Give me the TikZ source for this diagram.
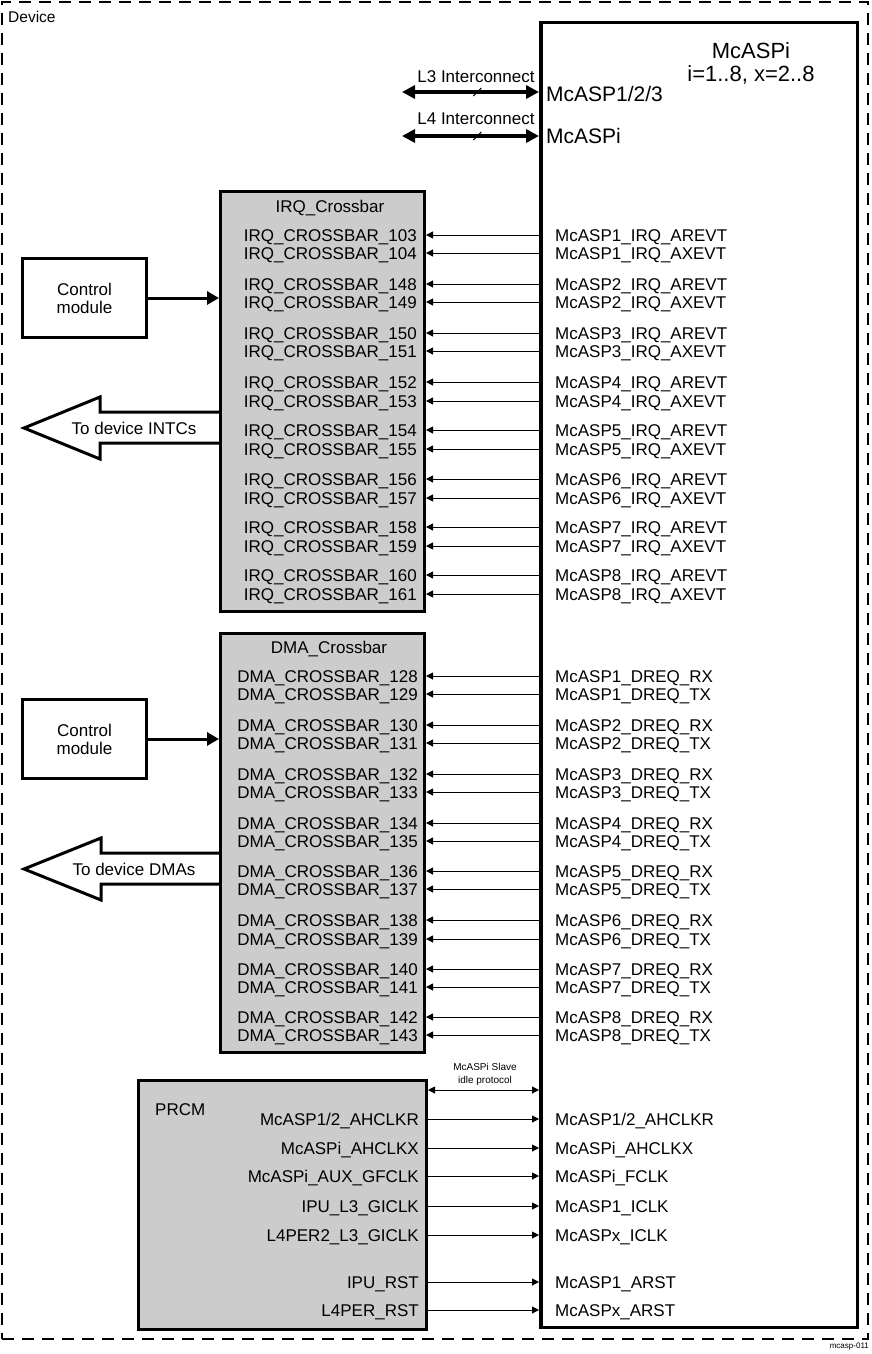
\documentclass[tikz,border=0pt]{standalone}
\usepackage{fontspec}
\setmainfont{Liberation Sans}
\usetikzlibrary{arrows.meta}
\definecolor{boxgray}{RGB}{204,204,204}
\begin{document}
\begin{tikzpicture}[x=1pt,y=-1pt,
  every node/.style={inner sep=0pt},
  sigfont/.style={font=\fontsize{17}{18}\selectfont},
  rlab/.style={sigfont, anchor=west, text height=12.2pt, text depth=0pt},
  llab/.style={sigfont, anchor=east, text height=12.2pt, text depth=0pt},
  clab/.style={sigfont, anchor=center, text height=12.2pt, text depth=0pt},
  thickbox/.style={draw, line width=3pt, anchor=north west},
  xbar/.style={thickbox, fill=boxgray},
  sigin/.style={line width=1pt, -{Triangle[length=7pt,width=7pt]}},
  sigboth/.style={line width=1pt, {Triangle[length=7pt,width=7pt]}-{Triangle[length=7pt,width=7pt]}},
  bus/.style={line width=4pt, {Triangle[length=13pt,width=13pt]}-{Triangle[length=13pt,width=13pt]}},
  ctlarrow/.style={line width=3pt, -{Triangle[length=12pt,width=13pt]}},
  bigarrow/.style={line width=3pt, line join=miter},
]
\useasboundingbox (0,0) rectangle (872,1354);

% device frame
\node[draw, dash pattern=on 12pt off 8pt, line width=1.5pt, minimum width=866pt, minimum height=1337pt, anchor=north west, outer sep=0pt] (device) at (2,2) {};
\node[font=\fontsize{15.5}{16}\selectfont, anchor=west] (devlbl) at (8,17) {Device};

% McASPi block
\node[thickbox, line width=3.5pt, minimum width=316.5pt, minimum height=1304.5pt] (mcasp) at (539,21) {};
\node[font=\fontsize{22}{23}\selectfont, align=center] (title) at (751,63) {McASPi\\i=1..8, x=2..8};
\node[font=\fontsize{21}{22}\selectfont, anchor=west, text height=15pt, text depth=0pt] (p3) at (546,94) {McASP1/2/3};
\node[font=\fontsize{21}{22}\selectfont, anchor=west, text height=15pt, text depth=0pt] (p4) at (546,136) {McASPi};

% interconnects
\coordinate (l3) at (402,92);
\coordinate (l4) at (402,136);
\draw[bus] (l3) -- (l3 -| mcasp.west) coordinate[pos=0.55] (l3m);
\draw[bus] (l4) -- (l4 -| mcasp.west) coordinate[pos=0.55] (l4m);
\draw[line width=1pt] ([shift={(-4,4)}]l3m) -- ([shift={(4,-4)}]l3m);
\draw[line width=1pt] ([shift={(-4,4)}]l4m) -- ([shift={(4,-4)}]l4m);
\node[sigfont] (l3lbl) at (476,77) {L3 Interconnect};
\node[sigfont] (l4lbl) at (476,119) {L4 Interconnect};

% IRQ crossbar
\node[xbar, minimum width=204pt, minimum height=420pt] (irq) at (219,190) {};
\node[clab] (irqt) at (330,206) {IRQ\_Crossbar};
\foreach \n/\m/\t/\y [count=\k] in {103/1/AREVT/235, 104/1/AXEVT/253, 148/2/AREVT/284, 149/2/AXEVT/302, 150/3/AREVT/333, 151/3/AXEVT/351, 152/4/AREVT/382, 153/4/AXEVT/401, 154/5/AREVT/430, 155/5/AXEVT/449, 156/6/AREVT/479, 157/6/AXEVT/498, 158/7/AREVT/527, 159/7/AXEVT/546, 160/8/AREVT/575, 161/8/AXEVT/594}{
  \node[llab] (irqL\k) at (417,\y) {IRQ\_CROSSBAR\_\n};
  \node[rlab] (irqR\k) at (555,\y) {McASP\m\_IRQ\_\t};
  \draw[sigin] (irqR\k -| mcasp.west) -- (irqR\k -| irq.east);
}

% DMA crossbar
\node[xbar, minimum width=204pt, minimum height=419pt] (dma) at (219,632) {};
\node[clab] (dmat) at (329,647) {DMA\_Crossbar};
\foreach \n/\m/\t/\y [count=\k] in {128/1/RX/676, 129/1/TX/694, 130/2/RX/725, 131/2/TX/743, 132/3/RX/774, 133/3/TX/792, 134/4/RX/823, 135/4/TX/841, 136/5/RX/871, 137/5/TX/889, 138/6/RX/920, 139/6/TX/939, 140/7/RX/969, 141/7/TX/987, 142/8/RX/1017, 143/8/TX/1035}{
  \node[llab] (dmaL\k) at (418,\y) {DMA\_CROSSBAR\_\n};
  \node[rlab] (dmaR\k) at (555,\y) {McASP\m\_DREQ\_\t};
  \draw[sigin] (dmaR\k -| mcasp.west) -- (dmaR\k -| dma.east);
}

% control modules
\node[thickbox, sigfont, minimum width=124pt, minimum height=79pt, align=center] (ctl1) at (21,257) {Control\\module};
\node[thickbox, sigfont, minimum width=124pt, minimum height=79pt, align=center] (ctl2) at (21,698) {Control\\module};
\draw[ctlarrow] (ctl1.east) -- (ctl1.east -| irq.west);
\draw[ctlarrow] (ctl2.east) -- (ctl2.east -| dma.west);

% outputs to device
\draw[bigarrow] (221,412) -- (100,412) -- (100,397) -- (24,428) -- (100,459) -- (100,443) -- (221,443);
\node[sigfont] (intc) at (134,428) {To device INTCs};
\draw[bigarrow] (221,853) -- (101,853) -- (101,838) -- (24,869) -- (101,900) -- (101,884) -- (221,884);
\node[sigfont] (dmas) at (134,869) {To device DMAs};

% PRCM
\node[xbar, minimum width=288pt, minimum height=249pt] (prcm) at (137,1079) {};
\node[rlab] (prcmlbl) at (155,1109) {PRCM};
\coordinate (slvA) at ([yshift=-11pt]prcm.north east);
\draw[sigboth] (slvA) -- (slvA -| mcasp.west);
\node[font=\fontsize{10}{13}\selectfont, align=center] (slvlbl) at (485,1074) {McASPi Slave\\idle protocol};

\node[llab] (pl1) at (419,1119) {McASP1/2\_AHCLKR};
\node[rlab] (pr1) at (555,1119) {McASP1/2\_AHCLKR};
\node[llab] (pl2) at (419,1148) {McASPi\_AHCLKX};
\node[rlab] (pr2) at (555,1148) {McASPi\_AHCLKX};
\node[llab] (pl3) at (419,1176) {McASPi\_AUX\_GFCLK};
\node[rlab] (pr3) at (555,1176) {McASPi\_FCLK};
\node[llab] (pl4) at (419,1206) {IPU\_L3\_GICLK};
\node[rlab] (pr4) at (555,1206) {McASP1\_ICLK};
\node[llab] (pl5) at (419,1235) {L4PER2\_L3\_GICLK};
\node[rlab] (pr5) at (555,1235) {McASPx\_ICLK};
\node[llab] (pl6) at (419,1282) {IPU\_RST};
\node[rlab] (pr6) at (555,1282) {McASP1\_ARST};
\node[llab] (pl7) at (419,1310) {L4PER\_RST};
\node[rlab] (pr7) at (555,1310) {McASPx\_ARST};
\foreach \k in {1,...,7}{
  \draw[sigin] (pl\k -| prcm.east) -- (pl\k -| mcasp.west);
}

\node[font=\fontsize{8}{9}\selectfont, anchor=east] (figid) at (869,1347) {mcasp-011};
\end{tikzpicture}
\end{document}
